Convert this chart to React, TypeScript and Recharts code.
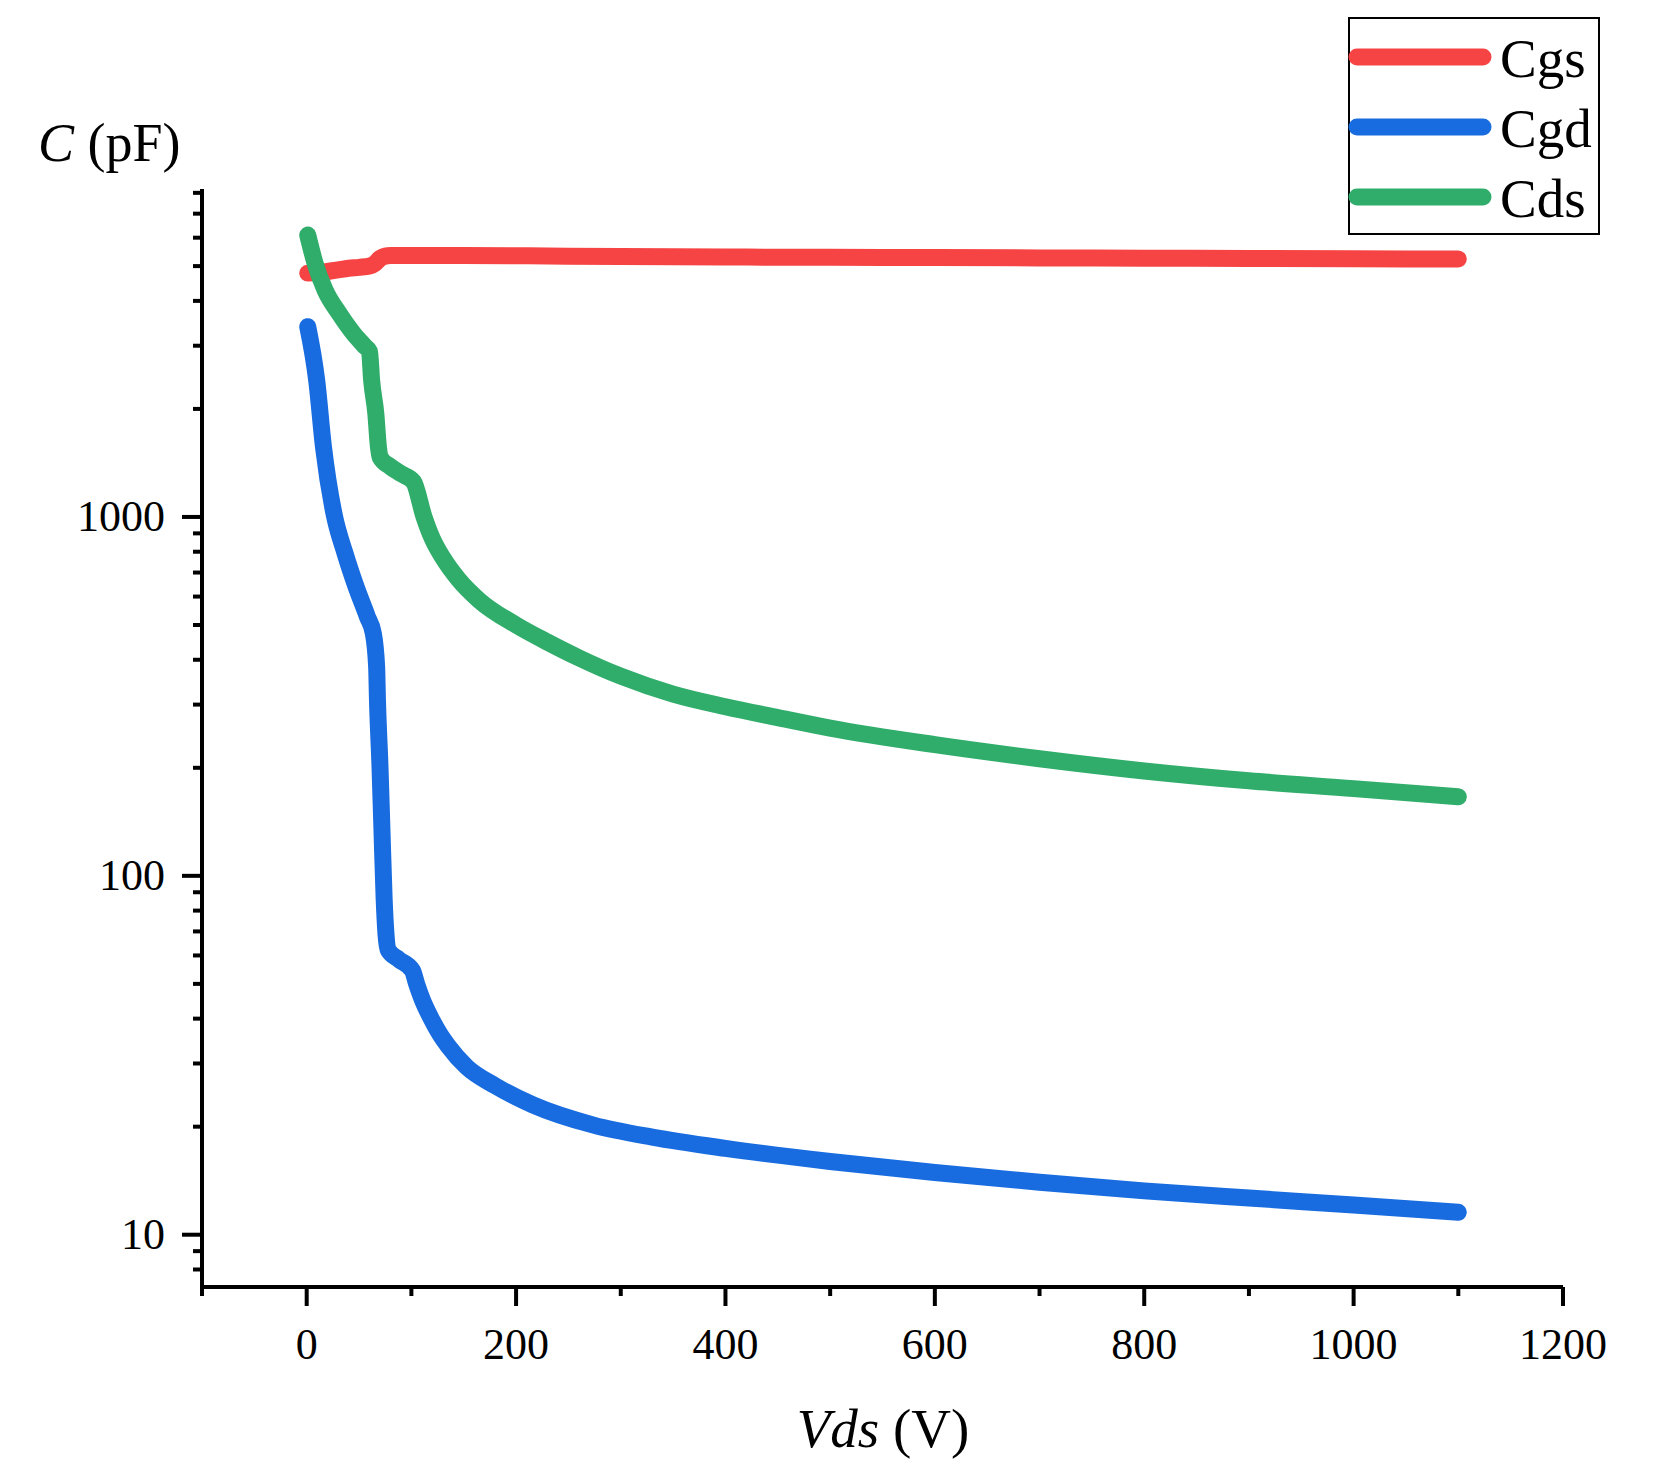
import React from 'react';
import { LineChart, Line, XAxis, YAxis, Legend } from 'recharts';

// C-V curves, [Vds (V), C (pF)]
const cgsPoints = [
  [1, 4780], [10, 4800], [20, 4830], [30, 4880], [40, 4930], [50, 4960], [60, 5000],
  [65, 5080], [70, 5250], [75, 5330], [80, 5350], [150, 5350], [250, 5330], [400, 5300],
  [500, 5290], [600, 5280], [700, 5270], [800, 5260], [900, 5250], [1000, 5240], [1100, 5230],
];

const cgdPoints = [
  [1, 3390], [9.5, 2410], [16, 1570], [26, 1023], [36.6, 792], [46, 653], [58, 527],
  [63.6, 474], [66.8, 383], [67.6, 309], [70, 202], [72, 131], [74, 86], [75.7, 69],
  [78, 62], [88, 58.5], [101, 54.5], [105, 50], [110.4, 45.2], [118, 40.5], [127, 36.3],
  [135, 33.6], [153, 29.3], [180, 26.0], [216, 23.0], [274, 20.2], [330, 18.7],
  [400, 17.4], [500, 16.0], [600, 14.9], [700, 14.0], [800, 13.25], [900, 12.65],
  [1000, 12.1], [1100, 11.55],
];

const cdsPoints = [
  [1, 6100], [8, 5090], [17.5, 4290], [31, 3690], [44.5, 3250], [55, 3000], [60, 2890],
  [62, 2410], [66, 1945], [68.5, 1570], [70, 1470], [80, 1380], [90, 1320], [102, 1253],
  [112, 1002], [120, 870], [130, 770], [145, 670], [165, 585], [200, 500], [230, 448],
  [260, 405], [300, 360], [350, 321], [400, 296], [450, 276], [500, 258], [600, 232],
  [700, 212], [800, 196], [900, 184], [1000, 175], [1100, 166],
];

const vdsTicks = [-100, 0, 100, 200, 300, 400, 500, 600, 700, 800, 900, 1000, 1100, 1200];
const vdsLabelTicks = [0, 200, 400, 600, 800, 1000, 1200];
const capTicks = [
  8, 9, 10, 20, 30, 40, 50, 60, 70, 80, 90, 100, 200, 300, 400, 500, 600, 700, 800, 900,
  1000, 2000, 3000, 4000, 5000, 6000, 7000, 8000,
];
const capLabelTicks = [10, 100, 1000];

const series = [
  { name: 'Cgs', color: '#F64444', points: cgsPoints },
  { name: 'Cgd', color: '#186CE0', points: cgdPoints },
  { name: 'Cds', color: '#30AD6B', points: cdsPoints },
];

const FONT = '"Liberation Serif", "Times New Roman", serif';

function VdsTick({ x, y, payload }: any) {
  const major = vdsLabelTicks.includes(payload.value);
  return (
    <g>
      <line x1={x} x2={x} y1={y} y2={y + (major ? 19 : 9)} stroke="#000" strokeWidth={4} />
      {major && (
        <text x={x} y={y + 72} textAnchor="middle" fontSize={44} fontFamily={FONT} fill="#000">
          {payload.value}
        </text>
      )}
    </g>
  );
}

function CapTick({ x, y, payload }: any) {
  const major = capLabelTicks.includes(payload.value);
  return (
    <g>
      <line x1={x - (major ? 20 : 9)} x2={x} y1={y} y2={y} stroke="#000" strokeWidth={4} />
      {major && (
        <text x={x - 37} y={y + 14} textAnchor="end" fontSize={44} fontFamily={FONT} fill="#000">
          {payload.value}
        </text>
      )}
    </g>
  );
}

function LegendBox() {
  return (
    <svg width={252} height={218} style={{ display: 'block' }}>
      <rect x={1} y={1} width={250} height={216} fill="#fff" stroke="#000" strokeWidth={2} />
      {series.map((s, i) => (
        <g key={s.name}>
          <line
            x1={9}
            x2={135}
            y1={40 + 70 * i}
            y2={40 + 70 * i}
            stroke={s.color}
            strokeWidth={17}
            strokeLinecap="round"
          />
          <text x={152} y={60 + 70 * i} fontSize={55} fontFamily={FONT} fill="#000">
            {s.name}
          </text>
        </g>
      ))}
    </svg>
  );
}

export default function App() {
  return (
    <div style={{ position: 'absolute', left: 0, top: 0, width: 1659, height: 1484, background: '#fff' }}>
      <LineChart
        width={1659}
        height={1484}
        margin={{ top: 189, right: 96, bottom: 137, left: 82 }}
      >
        <XAxis
          type="number"
          dataKey="v"
          domain={[-100, 1200]}
          ticks={vdsTicks}
          interval={0}
          allowDataOverflow
          height={60}
          tickSize={0}
          tickMargin={0}
          tickLine={false}
          axisLine={{ stroke: '#000', strokeWidth: 4 }}
          tick={(p: any) => <VdsTick {...p} />}
        />
        <YAxis
          type="number"
          scale="log"
          domain={[7.15, 8200]}
          ticks={capTicks}
          interval={0}
          allowDataOverflow
          width={120}
          tickSize={0}
          tickMargin={0}
          tickLine={false}
          axisLine={{ stroke: '#000', strokeWidth: 4 }}
          tick={(p: any) => <CapTick {...p} />}
        />
        <Legend
          layout="vertical"
          align="center"
          verticalAlign="middle"
          wrapperStyle={{ left: 1348, top: 17, width: 252, height: 218 }}
          content={() => <LegendBox />}
        />
        {series.map((s) => (
          <Line
            key={s.name}
            name={s.name}
            data={s.points.map(([v, c]) => ({ v, c }))}
            dataKey="c"
            type="monotone"
            stroke={s.color}
            strokeWidth={17}
            strokeLinecap="round"
            strokeLinejoin="round"
            dot={false}
            activeDot={false}
            isAnimationActive={false}
          />
        ))}
      </LineChart>
      <svg
        width={1659}
        height={1484}
        style={{ position: 'absolute', left: 0, top: 0, pointerEvents: 'none' }}
      >
        <text x={38} y={161} fontSize={54} fontFamily={FONT} fill="#000">
          <tspan fontStyle="italic">C</tspan> (pF)
        </text>
        <text x={883} y={1447} textAnchor="middle" fontSize={55} fontFamily={FONT} fill="#000">
          <tspan fontStyle="italic">Vds</tspan> (V)
        </text>
      </svg>
    </div>
  );
}
